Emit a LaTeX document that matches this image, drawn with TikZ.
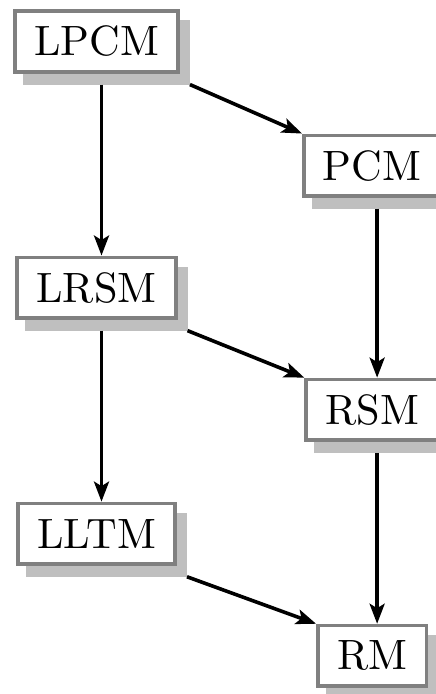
\documentclass[tikz,border=0pt]{standalone}
\usepackage{fontspec}
\newfontfamily\lmten{lmroman10-regular.otf}
\usetikzlibrary{arrows.meta,positioning,shadows}

\begin{document}
\begin{tikzpicture}[
    x=1pt, y=-1pt,
    font=\lmten\fontsize{42.4}{50}\selectfont,
    model/.style={draw=black!50, line width=3.6pt, fill=white, inner xsep=19.2pt, minimum height=60.5pt,
      drop shadow={shadow xshift=10pt, shadow yshift=-11pt, fill=black!25, draw=black!25, opacity=1}},
    arrow/.style={-{Stealth[length=20pt, width=15pt, inset=4.5pt]}, line width=3.6pt}
  ]
  \useasboundingbox (0,0) rectangle (436,694);

  \node[model] (lpcm) at (96.5,41.5) {LPCM};
  \node[model, below right=60pt and 122pt of lpcm] (pcm) {PCM};
  \node[model, below=182pt of lpcm] (lrsm) {LRSM};
  \node[model, below=180pt of pcm] (rsm) {RSM};
  \node[model, below=182pt of lrsm] (lltm) {LLTM};
  \node[model, below=182pt of rsm] (rm) {RM};

  % down the left column
  \draw[arrow] ([shift={(5pt,-11pt)}]lpcm.south) -- ([xshift=5pt]lrsm.north);
  \draw[arrow] ([shift={(5pt,-11pt)}]lrsm.south) -- ([xshift=5pt]lltm.north);
  % down the right column
  \draw[arrow] ([shift={(5pt,-11pt)}]pcm.south) -- ([xshift=5pt]rsm.north);
  \draw[arrow] ([shift={(5pt,-11pt)}]rsm.south) -- ([xshift=5pt]rm.north);
  % across
  \draw[arrow] ([shift={(10pt,-11pt)}]lpcm.south east) -- (pcm.north west);
  \draw[arrow] ([shift={(10pt,-11pt)}]lrsm.south east) -- (rsm.north west);
  \draw[arrow] ([shift={(10pt,-11pt)}]lltm.south east) -- (rm.north west);
\end{tikzpicture}
\end{document}
